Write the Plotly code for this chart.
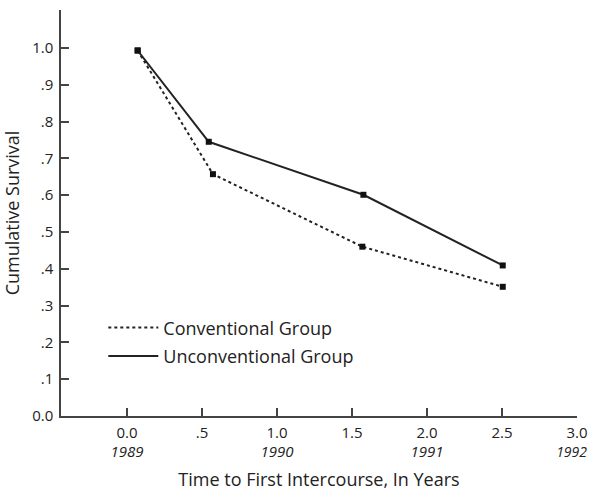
import plotly.graph_objects as go

years_x = [0.071, 0.573, 1.569, 2.505]
conventional = [0.993, 0.657, 0.460, 0.351]
years_x_u = [0.071, 0.545, 1.576, 2.505]
unconventional = [0.993, 0.745, 0.601, 0.409]

x_tickvals = [0.0, 0.5, 1.0, 1.5, 2.0, 2.5, 3.0]
x_ticktext = ["0.0<br><i>1989</i>", ".5<br> ", "1.0<br><i>1990</i>", "1.5<br> ",
              "2.0<br><i>1991</i>", "2.5<br> ",
              "3.0<br><span style='font-size:14px'><i>1992</i>\u00a0\u00a0\u00a0</span>"]
y_tickvals = [0.0, 0.1, 0.2, 0.3, 0.4, 0.5, 0.6, 0.7, 0.8, 0.9, 1.0]
y_ticktext = ["0.0", ".1", ".2", ".3", ".4", ".5", ".6", ".7", ".8", ".9", "1.0"]

FONT = "Open Sans, sans-serif"
fig = go.Figure()
fig.add_trace(go.Scatter(x=years_x, y=conventional, mode="lines+markers",
                         line=dict(color="#222", width=2, dash="dot"),
                         marker=dict(symbol="square", size=6, color="#111"),
                         showlegend=False))
fig.add_trace(go.Scatter(x=years_x_u, y=unconventional, mode="lines+markers",
                         line=dict(color="#222", width=2),
                         marker=dict(symbol="square", size=6, color="#111"),
                         showlegend=False))
fig.add_trace(go.Scatter(x=[None], y=[None], mode="lines", name="Conventional Group",
                         legendgroup="a",
                         line=dict(color="#222", width=2, dash="dot")))
fig.add_trace(go.Scatter(x=[None], y=[None], mode="lines", name="Unconventional Group",
                         legendgroup="b",
                         line=dict(color="#222", width=2)))

fig.update_layout(
    width=589, height=491,
    margin=dict(l=61, r=12, t=10, b=75, autoexpand=False),
    plot_bgcolor="white", paper_bgcolor="white",
    font=dict(family=FONT, size=15, color="#222"),
    legend=dict(x=0.082, y=0.2625, xanchor="left", yanchor="top",
                font=dict(size=18, color="#222"), bgcolor="rgba(0,0,0,0)",
                tracegroupgap=2, itemwidth=50),
    xaxis=dict(range=[-0.44, 3.0], tickvals=x_tickvals, ticktext=x_ticktext,
               showgrid=False, zeroline=False, showline=True, linecolor="#444",
               linewidth=1.5, ticks="inside", ticklen=8, tickcolor="#444",
               tickwidth=1.5, automargin=False, ticklabeloverflow="allow",
               ticklabelstandoff=2,
               title=dict(text="Time to First Intercourse, In Years",
                          font=dict(size=18), standoff=16)),
    yaxis=dict(range=[0.0, 1.103], tickvals=y_tickvals, ticktext=y_ticktext,
               showgrid=False, zeroline=False, showline=True, linecolor="#444",
               linewidth=1.5, ticks="inside", ticklen=8, tickcolor="#444",
               tickwidth=1.5, automargin=False, ticklabelstandoff=3,
               title=dict(text="Cumulative Survival", font=dict(size=18), standoff=11)),
)
fig.write_html("out.html", config={"displayModeBar": False},
               post_script="document.body.style.margin='0px';")
